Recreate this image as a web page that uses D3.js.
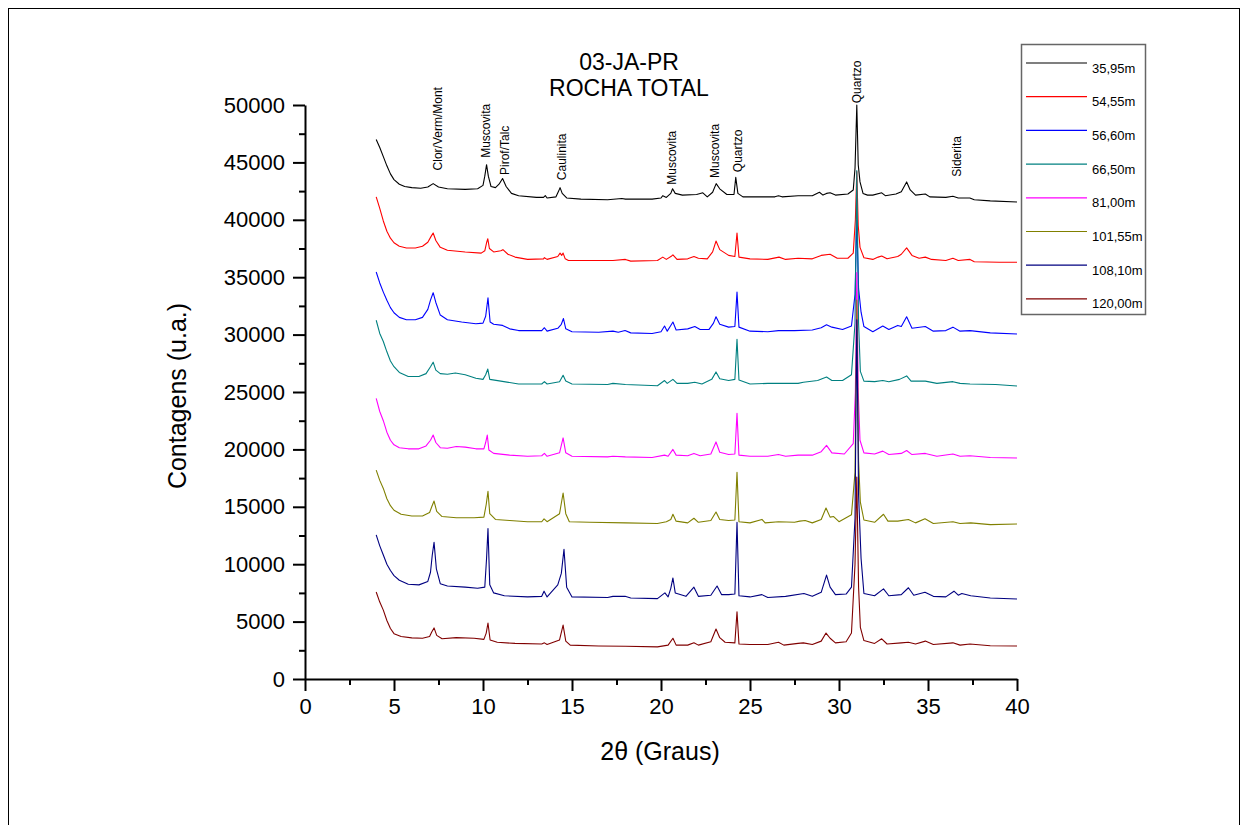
<!DOCTYPE html>
<html><head><meta charset="utf-8">
<script src="https://cdn.jsdelivr.net/npm/d3@7/dist/d3.min.js"></script>
<style>
body{margin:0;background:#fff}
svg text{font-family:"Liberation Sans",Arial,sans-serif;fill:#000}
</style>
</head><body>
<svg id="c" width="1248" height="825"></svg>
<script>
// ---------- data ----------
const seriesNames = ["35,95m","54,55m","56,60m","66,50m","81,00m","101,55m","108,10m","120,00m"];
const seriesColors = ["#000000","#ff0000","#0000ff","#008080","#ff00ff","#808000","#000080","#800000"];

const s3595 = [[4.0,47000],[4.2,46300],[4.4,45500],[4.6,44700],[4.8,44000],[5.0,43500],[5.3,43100],[5.6,42900],[6.0,42800],[6.5,42750],[6.9,42850],[7.2,43150],[7.5,42850],[8.0,42700],[9.0,42650],[9.7,42700],[10.0,43000],[10.1,43800],[10.2,44800],[10.3,43800],[10.45,42900],[10.7,42800],[10.9,43100],[11.1,43600],[11.3,42900],[11.6,42300],[12.0,42100],[13.0,41950],[13.4,41950],[13.5,42100],[13.6,41900],[14.1,42000],[14.25,42500],[14.33,42800],[14.45,42300],[14.7,41900],[15.5,41800],[17.0,41750],[17.8,41850],[18.0,41800],[19.5,41800],[20.0,41900],[20.1,42100],[20.3,41950],[20.55,42300],[20.65,42700],[20.8,42300],[21.2,42150],[22.0,42200],[22.35,42350],[22.6,42000],[22.9,42400],[23.1,43150],[23.3,42700],[23.7,42200],[24.1,42200],[24.2,43700],[24.32,42300],[24.6,42000],[26.4,42000],[26.6,42100],[26.8,42000],[27.7,42100],[28.5,42100],[28.9,42400],[29.1,42150],[29.3,42300],[29.5,42350],[29.8,42150],[30.5,42250],[30.8,42600],[30.9,44500],[31.0,50000],[31.08,44800],[31.18,43300],[31.35,42300],[31.6,42150],[31.9,42150],[32.4,42350],[32.6,42100],[33.2,42250],[33.5,42450],[33.8,43300],[34.0,42600],[34.3,42150],[34.85,42250],[35.1,42000],[36.0,41950],[36.4,42050],[36.7,41900],[37.35,41900],[37.6,41750],[38.5,41650],[40.0,41550]];
const s5455 = [[4.0,42000],[4.2,41000],[4.4,39900],[4.6,39000],[4.8,38400],[5.0,38000],[5.3,37700],[5.7,37550],[6.2,37550],[6.6,37700],[6.9,38050],[7.1,38600],[7.2,38850],[7.35,38200],[7.6,37600],[8.0,37350],[9.0,37200],[9.9,37100],[10.1,37300],[10.2,38000],[10.27,38350],[10.36,37500],[10.6,37200],[11.0,37300],[11.12,37400],[11.4,37000],[11.8,36750],[12.5,36550],[13.4,36600],[13.45,36700],[13.6,36550],[14.2,36800],[14.33,37100],[14.42,36900],[14.5,37100],[14.62,36600],[14.8,36450],[16.0,36450],[17.3,36450],[18.0,36550],[18.3,36400],[19.8,36450],[20.1,36750],[20.3,36550],[20.6,36850],[20.67,36950],[20.9,36550],[21.5,36600],[21.85,36800],[22.1,36650],[22.6,36600],[22.9,37200],[23.09,38150],[23.3,37400],[23.8,36900],[24.15,36800],[24.27,38850],[24.38,36750],[25.0,36600],[26.0,36550],[26.63,36750],[27.0,36550],[27.7,36650],[28.5,36600],[29.0,36900],[29.5,37000],[29.9,36650],[30.5,36650],[30.8,37100],[30.92,40000],[31.0,44200],[31.08,39500],[31.18,37600],[31.4,36700],[31.9,36550],[32.2,36750],[32.4,36850],[32.7,36600],[33.3,36800],[33.5,37000],[33.8,37550],[34.1,36900],[34.5,36650],[34.85,36750],[35.2,36550],[36.0,36450],[36.4,36650],[36.7,36450],[37.36,36550],[37.6,36350],[39.0,36300],[40.0,36300]];
const s5660 = [[4.0,35450],[4.2,34500],[4.4,33700],[4.6,33000],[4.8,32350],[5.0,31900],[5.3,31500],[5.7,31300],[6.2,31300],[6.6,31500],[6.9,32200],[7.05,33000],[7.2,33650],[7.35,32800],[7.6,31700],[8.0,31300],[8.8,31100],[9.6,30950],[10.0,31000],[10.15,31600],[10.28,33200],[10.4,31100],[10.6,30900],[11.1,30800],[11.5,30500],[12.0,30350],[13.3,30350],[13.45,30600],[13.6,30300],[14.2,30550],[14.4,30900],[14.52,31400],[14.65,30500],[15.0,30250],[16.5,30200],[17.3,30300],[17.6,30200],[17.98,30350],[18.3,30150],[19.5,30100],[20.0,30250],[20.2,30750],[20.35,30300],[20.55,30800],[20.67,31100],[20.85,30400],[21.5,30500],[21.9,30700],[22.2,30450],[22.7,30450],[22.95,31000],[23.09,31550],[23.3,30900],[23.8,30650],[24.15,30700],[24.27,33700],[24.38,30650],[25.0,30300],[26.0,30250],[26.6,30350],[27.5,30350],[28.5,30400],[29.0,30600],[29.3,30850],[29.6,30650],[30.2,30450],[30.7,30750],[30.9,33500],[31.0,40000],[31.1,34000],[31.24,31950],[31.4,30700],[31.9,30250],[32.46,30750],[32.8,30450],[33.3,30800],[33.5,30700],[33.8,31550],[34.1,30550],[34.85,30700],[35.3,30300],[36.0,30350],[36.4,30650],[36.8,30300],[37.36,30350],[38.5,30150],[40.0,30050]];
const s6650 = [[4.0,31250],[4.2,30100],[4.4,29400],[4.6,28500],[4.8,27700],[5.0,27200],[5.3,26700],[5.8,26350],[6.4,26350],[6.8,26600],[7.05,27200],[7.2,27600],[7.35,26900],[7.6,26600],[8.0,26550],[8.45,26650],[9.0,26500],[9.6,26200],[10.0,26100],[10.15,26500],[10.27,27000],[10.38,26100],[11.0,25950],[12.0,25700],[13.3,25700],[13.45,25900],[13.6,25700],[14.3,25900],[14.5,26450],[14.65,25950],[15.0,25700],[17.0,25650],[17.3,25750],[18.0,25650],[19.8,25550],[20.2,26000],[20.35,25750],[20.67,26100],[20.9,25750],[21.5,25750],[21.9,25850],[22.3,25700],[22.85,26100],[23.09,26750],[23.3,26150],[23.8,26000],[24.15,26100],[24.27,29600],[24.38,26050],[25.0,25700],[26.0,25750],[26.6,25750],[27.7,25750],[28.0,25850],[28.8,26000],[29.3,26300],[29.6,26000],[30.2,26000],[30.7,26500],[30.9,31000],[31.0,44300],[31.1,31000],[31.2,26800],[31.4,25950],[32.0,25900],[32.46,26000],[32.8,25900],[33.4,26100],[33.8,26400],[34.05,25950],[34.85,25950],[35.5,25750],[36.4,25900],[36.8,25750],[37.36,25700],[38.8,25650],[40.0,25520]];
const s8100 = [[4.0,24450],[4.2,23300],[4.4,22500],[4.6,21500],[4.8,20800],[5.0,20400],[5.3,20150],[5.8,20050],[6.4,20050],[6.8,20300],[7.05,20800],[7.2,21250],[7.35,20600],[7.6,20150],[8.0,20100],[8.5,20250],[9.0,20200],[9.6,20050],[10.05,20050],[10.15,20600],[10.24,21250],[10.33,19950],[10.6,19650],[11.5,19500],[12.5,19400],[13.3,19450],[13.45,19650],[13.6,19400],[14.3,19700],[14.5,21000],[14.65,19700],[15.0,19400],[17.0,19350],[17.3,19400],[18.0,19350],[19.5,19300],[20.2,19500],[20.4,19400],[20.67,20000],[20.85,19500],[21.5,19450],[21.85,19650],[22.2,19450],[22.8,19600],[23.09,20650],[23.3,19750],[23.8,19550],[24.15,19600],[24.27,23150],[24.38,19500],[25.0,19400],[26.0,19400],[26.6,19550],[27.0,19400],[27.7,19500],[28.5,19500],[29.0,19800],[29.3,20350],[29.6,19700],[30.3,19600],[30.8,20500],[30.92,25000],[31.0,35400],[31.08,25000],[31.18,20800],[31.4,19700],[32.0,19600],[32.46,19850],[32.8,19550],[33.5,19650],[33.8,19900],[34.1,19550],[34.85,19650],[35.5,19400],[36.4,19600],[36.8,19400],[37.36,19450],[38.5,19300],[40.0,19250]];
const s10155 = [[4.0,18200],[4.2,17300],[4.4,16600],[4.6,15700],[4.8,15100],[5.0,14700],[5.4,14350],[6.0,14200],[6.6,14200],[7.0,14500],[7.12,15000],[7.25,15500],[7.4,14600],[7.7,14150],[8.5,14050],[9.5,14050],[10.05,14100],[10.18,15200],[10.28,16350],[10.38,14400],[10.7,13900],[11.5,13800],[12.5,13700],[13.3,13700],[13.43,13950],[13.6,13700],[14.3,14400],[14.5,16200],[14.65,14400],[14.85,13700],[16.0,13650],[18.0,13600],[19.8,13550],[20.3,13700],[20.55,13900],[20.67,14350],[20.85,13750],[21.5,13600],[21.85,14000],[22.1,13650],[22.8,13800],[23.09,14550],[23.3,13900],[23.8,13800],[24.15,13850],[24.27,18000],[24.38,13700],[25.0,13600],[25.67,13900],[25.85,13600],[26.6,13700],[27.5,13650],[27.8,13750],[28.1,13800],[28.5,13600],[29.0,13900],[29.27,14900],[29.5,14100],[29.7,14150],[30.0,13700],[30.7,14300],[30.9,18000],[31.0,33000],[31.1,19000],[31.2,15400],[31.4,13850],[32.0,13650],[32.5,14350],[32.75,13750],[33.3,13750],[33.9,13900],[34.3,13600],[34.83,13950],[35.3,13550],[36.4,13700],[36.8,13550],[37.4,13600],[38.5,13450],[40.0,13500]];
const s10810 = [[4.0,12550],[4.2,11600],[4.4,10800],[4.6,10000],[4.8,9450],[5.0,9000],[5.3,8600],[5.8,8250],[6.4,8200],[6.9,8500],[7.05,9300],[7.15,10800],[7.25,11900],[7.38,9600],[7.6,8300],[8.0,8100],[9.0,8000],[9.7,7900],[10.1,8000],[10.2,10500],[10.28,13100],[10.38,8200],[10.6,7500],[11.2,7250],[12.5,7150],[13.3,7200],[13.43,7650],[13.6,7150],[14.2,8200],[14.4,9200],[14.55,11300],[14.7,8000],[15.0,7150],[17.0,7100],[17.3,7200],[17.98,7200],[18.3,7050],[19.8,7000],[20.22,7500],[20.4,7150],[20.55,7900],[20.67,8800],[20.8,7500],[21.4,7200],[21.85,8000],[22.1,7200],[22.8,7300],[23.15,8100],[23.4,7350],[23.8,7350],[24.15,7400],[24.27,13650],[24.38,7250],[25.0,7150],[25.67,7350],[26.0,7100],[27.0,7200],[28.03,7450],[28.5,7200],[29.0,7550],[29.3,9050],[29.5,8000],[29.8,7350],[30.4,7400],[30.7,8000],[30.9,14000],[31.0,31300],[31.1,16000],[31.24,10500],[31.4,7450],[32.0,7250],[32.5,7850],[32.8,7250],[33.5,7350],[33.9,7950],[34.2,7300],[34.83,7550],[35.3,7200],[36.0,7150],[36.46,7650],[36.7,7300],[36.9,7450],[37.4,7250],[38.5,7050],[40.0,6970]];
const s12000 = [[4.0,7580],[4.2,6700],[4.4,6000],[4.6,5100],[4.8,4400],[5.0,3950],[5.4,3700],[6.0,3580],[6.6,3550],[7.0,3700],[7.12,4100],[7.25,4450],[7.4,3800],[7.7,3500],[8.5,3600],[9.5,3550],[10.05,3450],[10.18,4000],[10.28,4880],[10.4,3400],[10.8,3200],[11.8,3100],[13.3,3050],[13.45,3150],[13.6,3000],[14.3,3400],[14.5,4700],[14.65,3300],[14.9,2950],[16.5,2880],[18.0,2850],[19.8,2800],[20.4,2950],[20.67,3550],[20.85,2950],[21.5,2950],[21.85,3150],[22.1,2950],[22.8,3250],[23.09,4350],[23.3,3600],[23.6,3200],[24.15,3150],[24.27,5850],[24.38,3050],[25.0,3000],[26.0,3000],[26.6,3200],[26.9,2950],[27.7,3100],[28.0,3150],[28.5,3000],[29.0,3300],[29.27,4000],[29.5,3550],[29.8,3150],[30.4,3250],[30.7,4000],[30.9,10000],[31.0,17600],[31.1,8000],[31.2,4500],[31.4,3350],[32.0,3100],[32.4,3500],[32.7,3050],[33.5,3150],[33.9,3200],[34.3,3050],[34.85,3300],[35.3,3000],[36.4,3150],[36.8,2950],[37.36,3050],[38.5,2900],[40.0,2870]];
const seriesData = [s3595, s5455, s5660, s6650, s8100, s10155, s10810, s12000];

const xTicks = [0,5,10,15,20,25,30,35,40];
const xMinorTicks = [2.5,7.5,12.5,17.5,22.5,27.5,32.5,37.5];
const yTicks = [0,5000,10000,15000,20000,25000,30000,35000,40000,45000,50000];
const yMinorTicks = [2500,7500,12500,17500,22500,27500,32500,37500,42500,47500];

const peakLabels = ["Clor/Verm/Mont","Muscovita","Pirof/Talc","Caulinita","Muscovita","Muscovita","Quartzo","Quartzo","Siderita"];
const peakX = [7.47,10.17,11.24,14.44,20.62,23.03,24.33,31.01,36.63];
const peakY = [44300,45400,43900,43450,43050,43650,44150,50150,43750];

const titleLines = ["03-JA-PR","ROCHA TOTAL"];
const xTitle = "2\u03b8 (Graus)";
const yTitle = "Contagens (u.a.)";

// ---------- drawing ----------
const svg = d3.select("#c");
svg.append("rect").attr("x",8.5).attr("y",8.5).attr("width",1231).attr("height",840)
  .attr("fill","none").attr("stroke","#000").attr("stroke-width",1);

const x = d3.scaleLinear().domain([0,40]).range([305,1017]);
const y = d3.scaleLinear().domain([0,50000]).range([679,105]);

// minor ticks
svg.append("g").attr("transform","translate(0,679)")
  .call(d3.axisBottom(x).tickValues(xMinorTicks).tickSize(6).tickSizeOuter(0).tickFormat(""))
  .call(g=>g.select(".domain").remove())
  .call(g=>g.selectAll("line").attr("stroke-width",2));
svg.append("g").attr("transform","translate(305,0)")
  .call(d3.axisLeft(y).tickValues(yMinorTicks).tickSize(6).tickSizeOuter(0).tickFormat(""))
  .call(g=>g.select(".domain").remove())
  .call(g=>g.selectAll("line").attr("stroke-width",2));

// major axes
const gx = svg.append("g").attr("transform","translate(0,679)")
  .call(d3.axisBottom(x).tickValues(xTicks).tickSize(12).tickSizeOuter(0).tickPadding(7).tickFormat(d3.format("d")));
const gy = svg.append("g").attr("transform","translate(305,0)")
  .call(d3.axisLeft(y).tickValues(yTicks).tickSize(12).tickSizeOuter(0).tickPadding(8).tickFormat(d3.format("d")));
[gx,gy].forEach(g=>{
  g.select(".domain").attr("stroke-width",2).attr("stroke","#000");
  g.selectAll(".tick line").attr("stroke-width",2).attr("stroke","#000");
  g.selectAll(".tick text").attr("font-size",22).attr("font-family","'Liberation Sans',Arial,sans-serif").attr("fill","#000");
});

// series
const line = d3.line().x(d=>x(d[0])).y(d=>y(d[1]));
svg.append("g").selectAll("path").data(seriesData).join("path")
  .attr("d",line).attr("fill","none")
  .attr("stroke",(d,i)=>seriesColors[i]).attr("stroke-width",1.1)
  .attr("stroke-linejoin","round");

// peak labels
svg.append("g").selectAll("text").data(peakLabels).join("text")
  .attr("transform",(d,i)=>`translate(${x(peakX[i])},${y(peakY[i])}) rotate(-90)`)
  .attr("dy","0.35em").attr("font-size",12).text(d=>d);

// title (two lines)
svg.append("g").selectAll("text").data(titleLines).join("text")
  .attr("x",629).attr("y",(d,i)=>70+i*26).attr("text-anchor","middle")
  .attr("font-size",23).text(d=>d);

svg.append("text").attr("x",660).attr("y",760).attr("text-anchor","middle")
  .attr("font-size",25).text(xTitle);
svg.append("text").attr("transform","translate(186,396) rotate(-90)")
  .attr("text-anchor","middle").attr("font-size",25).text(yTitle);

// legend
const lg = svg.append("g");
lg.append("rect").attr("x",1021.5).attr("y",44.5).attr("width",124).attr("height",270)
  .attr("fill","#fff").attr("stroke","#666").attr("stroke-width",1.5);
const items = lg.selectAll("g").data(seriesNames).join("g")
  .attr("transform",(d,i)=>`translate(0,${63+i*33.7})`);
items.append("line").attr("x1",1026).attr("x2",1087).attr("y1",0).attr("y2",0)
  .attr("stroke",(d,i)=>seriesColors[i]).attr("stroke-width",1.2);
items.append("text").attr("x",1092).attr("y",9.5).attr("font-size",13).text(d=>d);
</script>
</body></html>
